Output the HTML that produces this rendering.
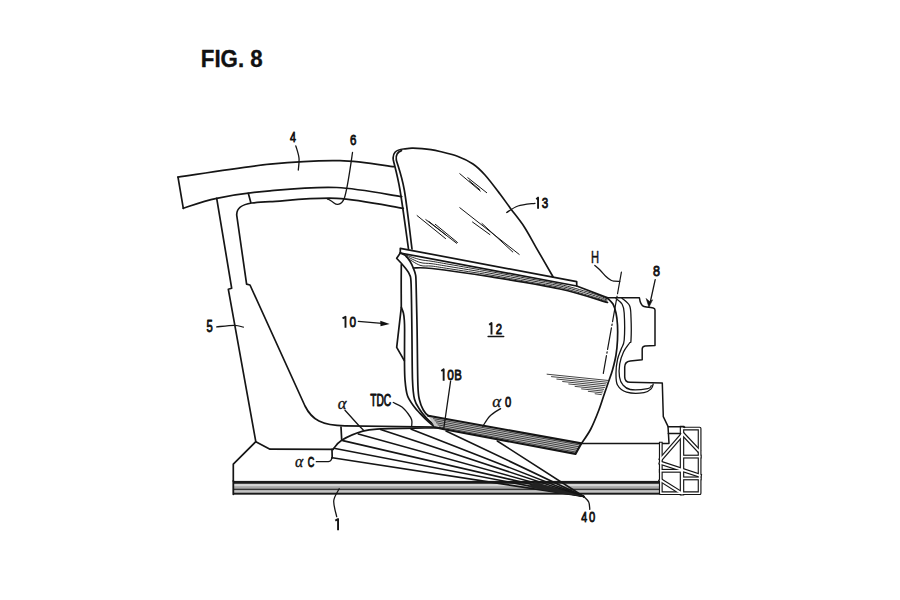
<!DOCTYPE html>
<html><head><meta charset="utf-8"><style>
html,body{margin:0;padding:0;background:#fff;}
body{width:900px;height:600px;overflow:hidden;position:relative;}
svg{position:absolute;left:0;top:0;display:block;}
</style></head><body>
<svg width="900" height="600" viewBox="0 0 900 600">
<g fill="none" stroke="#151515" stroke-linecap="round" stroke-linejoin="round">
<path d="M178,177.1 C193.33,174.95 243,166.95 270,164.2 C297,161.45 319.3,160.18 340,160.6 C360.7,161.02 385.17,165.68 394.2,166.7" stroke-width="1.7"/>
<path d="M178,177.1 L183.3,208.3" stroke-width="1.7"/>
<path d="M183.3,208.3 C188.87,206.63 202.25,201.22 216.7,198.3 C231.15,195.38 250,192.6 270,190.8 C290,189 314.75,186.52 336.7,187.5 C358.65,188.48 390.87,195.17 401.7,196.7" stroke-width="1.7"/>
<path d="M403.3,208.3 C392.2,206.63 358.92,199.4 336.7,198.3 C314.48,197.2 284.17,200.92 270,201.7 C255.83,202.48 254.75,202.78 251.7,203 C242,204.5 236.5,207.5 236.7,215 L246.6,284.2 L250,285 L305,406 C312,420 322,425.6 345,425.8 L436,427" stroke-width="1.7"/>
<path d="M248.3,193.3 L250.8,202.5" stroke-width="1.7"/>
<path d="M216.7,198.3 L231.7,288.3 L228.3,289.2 L255.8,441.7 L233.3,464.2 L233.3,481" stroke-width="1.7"/>
<path d="M255.8,441.7 L270,449.2 L333,449.3" stroke-width="1.7"/>
<path d="M408.5,249 C407.08,239.17 402.53,204.83 400,190 C397.47,175.17 394.42,165 393.3,160 C392.3,153.5 395.5,149.6 403.5,149 C404.92,148.87 408.92,148.27 412,148.2 C415.08,148.13 418.83,148.37 422,148.6 C425.17,148.83 428,149.12 431,149.6 C434,150.08 435.5,150.35 440,151.5 C444.5,152.65 452.5,154.42 458,156.5 C463.5,158.58 468.5,160.92 473,164 C477.5,167.08 480.5,170 485,175 C489.5,180 495.72,188.38 500,194 C504.28,199.62 506.7,203.28 510.7,208.7 C514.7,214.12 519.78,220.07 524,226.5 C528.22,232.93 531.17,238.93 536,247.3 C540.83,255.67 550.17,271.8 553,276.7" stroke-width="1.7"/>
<path d="M412,249 C410.72,239.17 406.92,204.83 404.3,190 C401.68,175.17 397.63,165 396.3,160 C395.6,155 397.5,151.8 401.5,150.6" stroke-width="1.7"/>
<path d="M459.8,173.7 L480.4,191.1" stroke-width="1.0"/>
<path d="M467.8,177.7 L486.7,192.7" stroke-width="1.0"/>
<path d="M469.3,180.8 L479.6,189.5" stroke-width="1.0"/>
<path d="M417.1,215.6 L445.6,238.6" stroke-width="1.0"/>
<path d="M425.8,219.6 L456.7,243.3" stroke-width="1.0"/>
<path d="M435.3,224.3 L457.5,242.5" stroke-width="1.0"/>
<path d="M429,221.5 L446,235" stroke-width="1.0"/>
<path d="M459.8,207.7 L519.2,254.4" stroke-width="1.0"/>
<path d="M472.5,222 L489.9,234.6" stroke-width="1.0"/>
<path d="M482,223.5 L512.8,252" stroke-width="1.0"/>
<path d="M400.3,253 L400.3,248.3 L576.7,281.7 L576.7,286" stroke-width="1.7"/>
<path d="M400.3,253 L576.7,286 L607,297.6" stroke-width="1.7"/>
<path d="M413.3,268 C416.42,268.08 419.22,267.05 432,268.5 C444.78,269.95 468.67,273.28 490,276.7 C511.33,280.12 540.42,284.7 560,289 C579.58,293.3 599.58,300.25 607.5,302.5" stroke-width="1.7"/>
<path d="M406,255.08 C408.33,255.83 415.67,258.52 420,259.56 C424.33,260.6 427,260.5 432,261.32 C437,262.14 440.33,262.79 450,264.48 C459.67,266.18 476.67,269.11 490,271.51 C503.33,273.91 518.33,276.73 530,278.88 C541.67,281.03 550,282.1 560,284.41 C570,286.71 582.17,290.3 590,292.7 C597.83,295.1 604.17,297.77 607,298.79" stroke-width="0.9"/>
<path d="M406,256.1 C408.33,257.15 415.67,261.16 420,262.43 C424.33,263.7 427,263.01 432,263.72 C437,264.42 440.33,265.08 450,266.67 C459.67,268.26 476.67,270.94 490,273.24 C503.33,275.54 518.33,278.38 530,280.5 C541.67,282.61 550,283.64 560,285.94 C570,288.24 582.17,291.97 590,294.31 C597.83,296.65 604.17,299.03 607,299.98" stroke-width="0.9"/>
<path d="M406,257.11 C408.33,258.48 415.67,263.81 420,265.31 C424.33,266.81 427,265.52 432,266.11 C437,266.7 440.33,267.38 450,268.86 C459.67,270.34 476.67,272.76 490,274.97 C503.33,277.18 518.33,280.03 530,282.11 C541.67,284.2 550,285.17 560,287.47 C570,289.77 582.17,293.63 590,295.92 C597.83,298.2 604.17,300.29 607,301.17" stroke-width="0.9"/>
<path d="M401.3,264.7 C401.28,267.92 401.2,276.9 401.2,284 C401.2,291.1 401.28,303.42 401.3,307.3 C401.65,308.25 402.9,310.88 403.4,313 C403.9,315.12 404.1,317.17 404.3,320 C404.5,322.83 404.57,323.17 404.6,330 C404.63,336.83 404.43,352.67 404.5,361 C404.57,369.33 404.5,374.2 405,380 C405.5,385.8 405.97,391.35 407.5,395.8 C409.03,400.25 412.12,403.78 414.2,406.7 C416.28,409.62 417.65,410.8 420,413.3 C422.35,415.8 425.8,419.37 428.3,421.7 C430.8,424.03 433.88,426.37 435,427.3" stroke-width="1.7"/>
<path d="M400.3,253 L396.7,258.3  C397.47,259.13 399.87,261.68 401.3,263.3 C402.73,264.92 403.92,266.1 405.3,268 C406.68,269.9 408.63,272.03 409.6,274.7 C410.57,277.37 410.72,274.78 411.1,284 C411.48,293.22 411.67,314 411.9,330 C412.13,346 412.07,368.47 412.5,380 C412.93,391.53 413.25,394.2 414.5,399.2 C415.75,404.2 417.97,406.82 420,410 C422.03,413.18 424.48,415.93 426.7,418.3 C428.92,420.67 431.42,422.67 433.3,424.2 C435.18,425.73 437.22,426.95 438,427.5" stroke-width="1.7"/>
<path d="M400.3,253 C401.13,253.38 403.68,253.92 405.3,255.3 C406.92,256.68 408.67,259.18 410,261.3 C411.33,263.42 412.38,265.77 413.3,268 C414.22,270.23 415.03,272.03 415.5,274.7 C415.97,277.37 415.83,274.78 416.1,284 C416.37,293.22 416.8,313.17 417.1,330 C417.4,346.83 417.5,373.33 417.9,385 C418.3,396.67 418.6,395.83 419.5,400 C420.4,404.17 421.83,407.37 423.3,410 C424.77,412.63 426.77,414.63 428.3,415.8 C429.83,416.97 431.8,416.8 432.5,417" stroke-width="1.7"/>
<path d="M401.3,307.3 L396.7,347.3 L404.3,360.7" stroke-width="1.7"/>
<path d="M607,297.6 C608,298.67 611.5,301.43 613,304 C614.5,306.57 615.25,309.5 616,313 C616.75,316.5 617.25,320.5 617.5,325 C617.75,329.5 617.75,335 617.5,340 C617.25,345 616.83,350 616,355 C615.17,360 613.7,365.67 612.5,370 C611.3,374.33 610.17,377 608.8,381 C607.43,385 605.97,389.12 604.3,394 C602.63,398.88 601.05,404.47 598.8,410.3 C596.55,416.13 593.68,423.47 590.8,429 C587.92,434.53 583.05,441.08 581.5,443.5" stroke-width="1.7"/>
<path d="M428.3,415.8 L581.3,443.4 L575.5,453.9 L442.8,429 L435,427.3 Z" fill="#c4c4c4" stroke="none"/>
<path d="M433.5,418.67 L579.5,444.98" stroke-width="0.9" stroke="#333"/>
<path d="M435,420.73 L578.7,446.77" stroke-width="0.9" stroke="#333"/>
<path d="M436.5,422.8 L577.9,448.55" stroke-width="0.9" stroke="#333"/>
<path d="M438,424.87 L577.1,450.33" stroke-width="0.9" stroke="#333"/>
<path d="M439.5,426.93 L576.3,452.12" stroke-width="0.9" stroke="#333"/>
<path d="M428.3,415.8 L581.3,443.4 L575.5,453.9 L442.8,429 L435,427.3" stroke-width="2.1"/>
<path d="M547.1,374.2 L607.6,380.4" stroke-width="0.8"/>
<path d="M551.5,376.64 L606.82,382.18" stroke-width="0.8"/>
<path d="M556.85,379.09 L606.04,383.96" stroke-width="0.8"/>
<path d="M562.65,381.53 L605.27,385.73" stroke-width="0.8"/>
<path d="M568.74,383.98 L604.49,387.51" stroke-width="0.8"/>
<path d="M575.08,386.42 L603.71,389.29" stroke-width="0.8"/>
<path d="M581.6,388.87 L602.93,391.07" stroke-width="0.8"/>
<path d="M588.3,391.31 L602.16,392.84" stroke-width="0.8"/>
<path d="M595.13,393.76 L601.38,394.62" stroke-width="0.8"/>
<path d="M606.4,297.8 L639.4,297.8 C640,302 641,305.5 644,306.5 C646,307.2 649,307.4 653.2,307.9 C654.5,308.2 655,309 655,310 L655,345.5 L645,346 C643,346.5 642.2,347.5 642.2,349 L642.2,359.7 L630.2,361 C626.5,361.5 624.7,363.5 624.7,367 L624.7,376.7 C624.7,380.5 626.5,382.2 630,382.3 L662.3,383.1 L663.3,416.7 L668,426.3 L669,443.4 L581.3,443.4" stroke-width="1.5"/>
<path d="M616,298.5 C617,299.42 620.63,301.58 622,304 C623.37,306.42 623.83,307 624.2,313 C624.57,319 624.7,334 624.2,340 C623.7,346 622.32,345.75 621.2,349 C620.08,352.25 618.37,355.5 617.5,359.5 C616.63,363.5 616,368.75 616,373 C616,377.25 615.73,381.8 617.5,385 C619.27,388.2 622.18,390.92 626.6,392.2 C631.02,393.48 639.88,393.3 644,392.7 C648.12,392.1 649.77,390.05 651.3,388.6 C652.83,387.15 652.88,384.77 653.2,384" stroke-width="1.3"/>
<path d="M622,298.2 C623.25,299.42 628,302.28 629.5,305.5 C631,308.72 630.75,311.75 631,317.5 C631.25,323.25 631.25,335.75 631,340 C630.75,344.25 630.75,341 629.5,343 C628.25,345 625.13,348.5 623.5,352 C621.87,355.5 620.37,359.83 619.7,364 C619.03,368.17 618.97,373.52 619.5,377 C620.03,380.48 621.12,382.82 622.9,384.9 C624.68,386.98 626.07,388.88 630.2,389.5 C634.33,390.12 644.18,389.22 647.7,388.6 C651.22,387.98 650.7,386.27 651.3,385.8" stroke-width="1.3"/>
<rect x="233.3" y="481" width="427" height="13.5" fill="#a8a8a8" stroke="none"/>
<rect x="233.3" y="480.9" width="427" height="2.8" fill="#1a1a1a" stroke="none"/>
<rect x="233.3" y="484.1" width="427" height="2.1" fill="#d6d6d6" stroke="none"/>
<rect x="233.3" y="488.7" width="427" height="1.4" fill="#333" stroke="none"/>
<rect x="233.3" y="490.4" width="427" height="2" fill="#c4c4c4" stroke="none"/>
<rect x="233.3" y="492.8" width="467.7" height="1.8" fill="#1a1a1a" stroke="none"/>
<path d="M233.3,481 L233.3,494.3" stroke-width="1.8"/>
<path d="M683.5,428.6 L699.6,428.6 L699.6,493.2 L660.8,493.2 L660.8,443.6" stroke-width="3.8" stroke-linecap="square"/>
<path d="M682,428 L682,493.2" stroke-width="4.5" stroke-linecap="square"/>
<path d="M681.5,435.5 L661,459" stroke-width="4.1" stroke-linecap="square"/>
<path d="M682.5,433.5 L698.5,450.5" stroke-width="4.1" stroke-linecap="square"/>
<path d="M682,456.6 L699.6,456.6" stroke-width="3.9" stroke-linecap="square"/>
<path d="M660.8,462.8 L699.6,475.6" stroke-width="4.199999999999999" stroke-linecap="square"/>
<path d="M660.8,470.8 L682,470.8" stroke-width="3.9" stroke-linecap="square"/>
<path d="M682,478.4 L699.6,478.4" stroke-width="3.9" stroke-linecap="square"/>
<path d="M660.8,480.2 L680.5,492.6" stroke-width="4.199999999999999" stroke-linecap="square"/>
<path d="M683.5,428.6 L699.6,428.6 L699.6,493.2 L660.8,493.2 L660.8,443.6" stroke-width="1.5" stroke="#fff" stroke-linecap="square"/>
<path d="M682,428 L682,493.2" stroke-width="2.2" stroke="#fff" stroke-linecap="square"/>
<path d="M681.5,435.5 L661,459" stroke-width="1.8" stroke="#fff" stroke-linecap="square"/>
<path d="M682.5,433.5 L698.5,450.5" stroke-width="1.8" stroke="#fff" stroke-linecap="square"/>
<path d="M682,456.6 L699.6,456.6" stroke-width="1.6" stroke="#fff" stroke-linecap="square"/>
<path d="M660.8,462.8 L699.6,475.6" stroke-width="1.9" stroke="#fff" stroke-linecap="square"/>
<path d="M660.8,470.8 L682,470.8" stroke-width="1.6" stroke="#fff" stroke-linecap="square"/>
<path d="M682,478.4 L699.6,478.4" stroke-width="1.6" stroke="#fff" stroke-linecap="square"/>
<path d="M660.8,480.2 L680.5,492.6" stroke-width="1.9" stroke="#fff" stroke-linecap="square"/>
<path d="M668.2,426.8 L683.7,426.8 L684.6,427.3" stroke-width="1.6"/>
<path d="M668.4,433.6 L680.6,433.6" stroke-width="1.5"/>
<path d="M332.3,457.8 L583.7,496.5" stroke-width="1.6"/>
<path d="M333.9,448.3 L583.7,496.5" stroke-width="1.6"/>
<path d="M342.8,440.6 L583.7,496.5" stroke-width="1.6"/>
<path d="M358.3,433.9 L583.7,496.5" stroke-width="1.6"/>
<path d="M380.6,429.4 L583.7,496.5" stroke-width="1.6"/>
<path d="M411.3,429.3 L583.7,496.5" stroke-width="1.6"/>
<path d="M446,431 L583.7,496.5" stroke-width="1.6"/>
<path d="M497.3,441 L583.7,496.5" stroke-width="1.6"/>
<path d="M333,449.4 C334.45,447.87 336.73,443.25 341.7,440.2 C346.67,437.15 356.32,432.98 362.8,431.1 C369.28,429.22 370.23,429.42 380.6,428.9 C390.97,428.38 415.1,428.18 425,428 C434.9,427.82 437.5,427.83 440,427.8" stroke-width="1.7"/>
<path d="M341,427 L341.7,439.7" stroke-width="1.7"/>
<path d="M332,449.4 L332.2,457.8" stroke-width="1.7"/>
<path d="M535,482 L583.7,496.5 L560,493.5 L528,487 Z" fill="#222" stroke="none"/>
<path d="M621.4,272.1 L603.3,373.3" stroke-width="1.2" stroke-dasharray="22 2.5 1.3 2.5"/>
<path d="M295.8,145.8 C296.33,147.83 298.58,153.97 299,158 C299.42,162.03 298.42,168 298.3,170" stroke-width="1.3"/>
<path d="M352.5,152.5 C350,170 348,185 345,196 C343,204 338,206 334,203 C330,200 328,199 327.5,199.2" stroke-width="1.3"/>
<path d="M506.7,212.5 C508.58,211.42 513.28,207.53 518,206 C522.72,204.47 532.17,203.75 535,203.3" stroke-width="1.3"/>
<path d="M594.8,265.4 C595.67,266.17 598.13,268.15 600,270 C601.87,271.85 604.17,274.78 606,276.5 C607.83,278.22 609.62,279.52 611,280.3 C612.38,281.08 612.85,281.02 614.3,281.2 C615.75,281.38 618.8,281.37 619.7,281.4" stroke-width="1.3"/>
<path d="M655.2,279.7 L650.5,301" stroke-width="1.3"/>
<path d="M646.3,298.8 L648.9,307.2 L652.6,299.8 L649.8,301.5 Z" fill="#111" stroke="#111" stroke-width="0.6"/>
<path d="M358.3,321.3 L382,323.4" stroke-width="1.3"/>
<path d="M380.3,320.8 L389.7,324 L380.5,326.3 Z" fill="#111" stroke="none"/>
<path d="M216.7,326.9 C219.65,326.63 229.97,325.25 234.4,325.3 C238.83,325.35 241.82,326.88 243.3,327.2" stroke-width="1.3"/>
<path d="M345,410.3 L359,425.7 L363.3,430" stroke-width="1.3"/>
<path d="M393.3,402.5 C394.75,403.25 399.5,405.08 402,407 C404.5,408.92 406.68,411.83 408.3,414 C409.92,416.17 411.13,418.03 411.7,420 C412.27,421.97 411.7,424.83 411.7,425.8" stroke-width="1.3"/>
<path d="M450.6,381.2 L443.7,429" stroke-width="1.3"/>
<path d="M500.6,408.6 C498.83,409.83 492.97,413.05 490,416 C487.03,418.95 484,424.58 482.8,426.3" stroke-width="1.3"/>
<path d="M316.3,461.7 L328.3,461.7 C331,461 331.7,459.5 331.7,457.7" stroke-width="1.3"/>
<path d="M339.2,488.75 C338.29,490.76 334.17,496.14 333.75,500.8 C333.33,505.46 336.21,514.05 336.7,516.7" stroke-width="1.3"/>
<path d="M583.4,496.2 C584.28,497.17 587.63,499.82 588.7,502 C589.77,504.18 589.62,508.08 589.8,509.3" stroke-width="1.3"/>
<text transform="matrix(0.1065,0,0,0.14674,289.97,142.36)" font-size="100" font-weight="normal" fill="#111" stroke="#111" stroke-width="5.99948" font-family="&#39;Liberation Sans&#39;, sans-serif" font-style="normal">4</text>
<text transform="matrix(0.11576,0,0,0.15106,349.96,145.21)" font-size="100" font-weight="normal" fill="#111" stroke="#111" stroke-width="5.67167" font-family="&#39;Liberation Sans&#39;, sans-serif" font-style="normal">6</text>
<path d="M536.3,199.24 L538.05,197.6 L538.05,208.7" stroke-width="1.9" stroke-linecap="butt" stroke-linejoin="round"/>
<text transform="matrix(0.11649,0,0,0.15106,541.72,208.21)" font-size="100" font-weight="normal" fill="#111" stroke="#111" stroke-width="5.65391" font-family="&#39;Liberation Sans&#39;, sans-serif" font-style="normal">3</text>
<text transform="matrix(0.11143,0,0,0.16435,590.89,262.82)" font-size="100" font-weight="normal" fill="#111" stroke="#111" stroke-width="2.95583" font-family="&#39;Liberation Sans&#39;, sans-serif" font-style="normal">H</text>
<text transform="matrix(0.12606,0,0,0.14683,652.97,276.32)" font-size="100" font-weight="normal" fill="#111" stroke="#111" stroke-width="5.51261" font-family="&#39;Liberation Sans&#39;, sans-serif" font-style="normal">8</text>
<path d="M342.55,318.39 L345.5,316.75 L345.5,327.85" stroke-width="1.9" stroke-linecap="butt" stroke-linejoin="round"/>
<text transform="matrix(0.11842,0,0,0.15528,349.46,327.36)" font-size="100" font-weight="normal" fill="#111" stroke="#111" stroke-width="5.53078" font-family="&#39;Liberation Sans&#39;, sans-serif" font-style="normal">0</text>
<path d="M489.15,324.69 L491.5,323 L491.5,334.4" stroke-width="1.9" stroke-linecap="butt" stroke-linejoin="round"/>
<text transform="matrix(0.11374,0,0,0.14893,495.82,333.76)" font-size="100" font-weight="normal" fill="#111" stroke="#111" stroke-width="5.76266" font-family="&#39;Liberation Sans&#39;, sans-serif" font-style="normal">2</text>
<path d="M488.1,336.5 L503.7,336.5" stroke-width="1.5"/>
<text transform="matrix(0.11211,0,0,0.1575,206.49,331.81)" font-size="100" font-weight="normal" fill="#111" stroke="#111" stroke-width="5.64427" font-family="&#39;Liberation Sans&#39;, sans-serif" font-style="normal">5</text>
<text transform="matrix(0.16725,0,0,0.16104,337.63,408.7)" font-size="100" font-weight="normal" fill="#111" stroke="#111" stroke-width="1.82794" font-family="&#39;Liberation Serif&#39;, serif" font-style="italic">α</text>
<text transform="matrix(0.10238,0,0,0.15951,370.13,406.2)" font-size="100" font-weight="normal" fill="#111" stroke="#111" stroke-width="5.86897" font-family="&#39;Liberation Sans&#39;, sans-serif" font-style="normal">TDC</text>
<path d="M441.3,370.99 L443.65,369.3 L443.65,380.7" stroke-width="1.9" stroke-linecap="butt" stroke-linejoin="round"/>
<text transform="matrix(0.11842,0,0,0.14683,447.16,379.92)" font-size="100" font-weight="normal" fill="#111" stroke="#111" stroke-width="5.68772" font-family="&#39;Liberation Sans&#39;, sans-serif" font-style="normal">0</text>
<text transform="matrix(0.11355,0,0,0.15543,454.23,380.36)" font-size="100" font-weight="normal" fill="#111" stroke="#111" stroke-width="5.64535" font-family="&#39;Liberation Sans&#39;, sans-serif" font-style="normal">B</text>
<text transform="matrix(0.16922,0,0,0.16729,492.33,407.1)" font-size="100" font-weight="normal" fill="#111" stroke="#111" stroke-width="1.78305" font-family="&#39;Liberation Serif&#39;, serif" font-style="italic">α</text>
<text transform="matrix(0.11211,0,0,0.15106,504.89,406.71)" font-size="100" font-weight="normal" fill="#111" stroke="#111" stroke-width="5.7634" font-family="&#39;Liberation Sans&#39;, sans-serif" font-style="normal">0</text>
<text transform="matrix(0.15745,0,0,0.17354,294.96,467.49)" font-size="100" font-weight="normal" fill="#111" stroke="#111" stroke-width="1.81487" font-family="&#39;Liberation Serif&#39;, serif" font-style="italic">α</text>
<text transform="matrix(0.09087,0,0,0.15528,307.68,467.31)" font-size="100" font-weight="normal" fill="#111" stroke="#111" stroke-width="6.3137" font-family="&#39;Liberation Sans&#39;, sans-serif" font-style="normal">C</text>
<path d="M335.3,520.67 L338.05,519 L338.05,530.3" stroke-width="1.9" stroke-linecap="butt" stroke-linejoin="round"/>
<text transform="matrix(0.1065,0,0,0.15109,581.37,521.96)" font-size="100" font-weight="normal" fill="#111" stroke="#111" stroke-width="5.91252" font-family="&#39;Liberation Sans&#39;, sans-serif" font-style="normal">4</text>
<text transform="matrix(0.11211,0,0,0.14683,588.99,521.52)" font-size="100" font-weight="normal" fill="#111" stroke="#111" stroke-width="5.84574" font-family="&#39;Liberation Sans&#39;, sans-serif" font-style="normal">0</text>
<text transform="matrix(0.22271,0,0,0.235,200.81,66.51)" font-size="100" font-weight="bold" fill="#111" stroke="#111" stroke-width="1.52992" font-family="&#39;Liberation Sans&#39;, sans-serif" font-style="normal">FIG. 8</text>
</g>
</svg>
</body></html>
